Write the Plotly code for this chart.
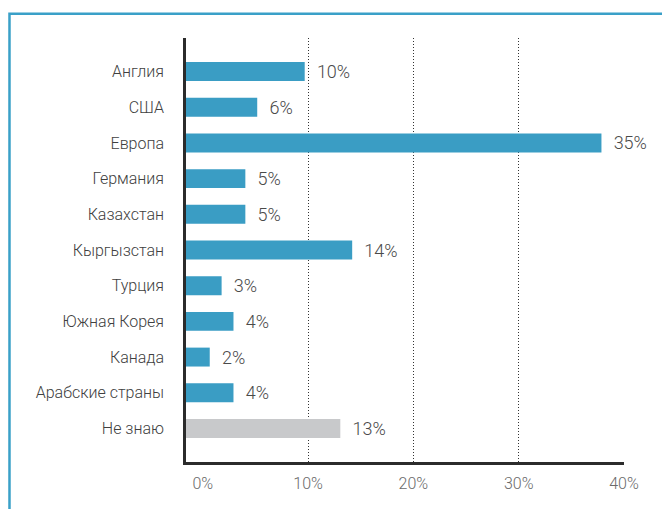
import plotly.graph_objects as go

# ── Данные ──────────────────────────────────────────────────────────
countries = ["Англия", "США", "Европа", "Германия", "Казахстан", "Кыргызстан",
             "Турция", "Южная Корея", "Канада", "Арабские страны", "Не знаю"]
shares = [10, 6, 35, 5, 5, 14, 3, 4, 2, 4, 13]
grid_ticks = [0, 10, 20, 30, 40]
grid_labels = ["0%", "10%", "20%", "30%", "40%"]

BLUE = "#3A9DC4"
GREY = "#C8C9CB"
AXIS = "#2B2B2B"
FONT = "Roboto"

bar_colors = [GREY if c == "Не знаю" else BLUE for c in countries]

fig = go.Figure()
fig.add_trace(go.Bar(
    x=shares,
    y=countries,
    orientation="h",
    width=0.53,
    marker=dict(color=bar_colors, line=dict(width=0)),
    text=[f"\u2002{v}%" for v in shares],
    textposition="outside",
    constraintext="none",
    textfont=dict(family=FONT, size=18, color="#4A4A4A", weight=300),
    cliponaxis=False,
    hoverinfo="skip",
))
# вспомогательная ось для сетки и подписей
fig.add_trace(go.Scatter(x=[], y=[], xaxis="x2", hoverinfo="skip", showlegend=False))

fig.update_layout(
    width=662, height=509,
    margin=dict(l=186, r=38, t=38, b=47),
    paper_bgcolor="white",
    plot_bgcolor="white",
    showlegend=False,
    font=dict(family=FONT),
    xaxis=dict(
        range=[0, 36.9],
        showgrid=False, zeroline=False,
        showticklabels=False, ticks="",
        showline=True, linecolor=AXIS, linewidth=2.5,
        fixedrange=True,
    ),
    xaxis2=dict(
        overlaying="x", side="bottom",
        range=[-1.59, 40],
        tickvals=grid_ticks, ticktext=grid_labels,
        showgrid=True, gridcolor="#333333", gridwidth=1, griddash="1px,2px",
        zeroline=True, zerolinecolor="rgba(0,0,0,0)", zerolinewidth=0,
        ticks="", ticklabelstandoff=10,
        tickfont=dict(family=FONT, size=16, color="#6A6A6A", weight=300),
        showline=False,
    ),
    yaxis=dict(
        categoryorder="array", categoryarray=countries,
        range=[10.94, -0.94], autorange=False,
        showgrid=False, zeroline=False,
        ticks="", ticklabelstandoff=16,
        tickfont=dict(family=FONT, size=16, color="#404040", weight=300),
        showline=True, linecolor=AXIS, linewidth=2.5,
    ),
    shapes=[dict(
        type="path", xref="paper", yref="paper",
        path="M -0.403,-0.2 L -0.403,1.057 L 1.2,1.057",
        line=dict(color="#3AA0C8", width=2.5),
    )],
)

fig.write_html("out.html", config={"displayModeBar": False},
               post_script="document.body.style.margin='0';")
